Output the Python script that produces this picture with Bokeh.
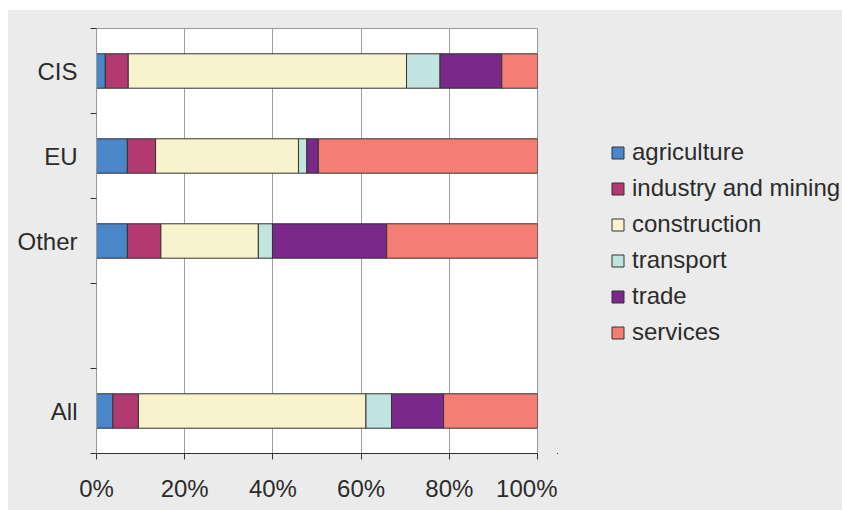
from bokeh.plotting import figure
from bokeh.models import ColumnDataSource, FixedTicker, Legend, LegendItem, Spacer, Range1d
from bokeh.layouts import row, column
from bokeh.embed import file_html
from bokeh.resources import INLINE

regions = ["CIS", "EU", "Other", "", "All"]
sectors = ["agriculture", "industry and mining", "construction", "transport", "trade", "services"]
agriculture = [2.0, 7.0, 7.0, 0.0, 3.7]
industry = [5.2, 6.4, 7.6, 0.0, 5.8]
construction = [63.1, 32.4, 22.1, 0.0, 51.6]
transport = [7.6, 1.9, 3.2, 0.0, 5.8]
trade = [14.0, 2.6, 25.9, 0.0, 11.8]
services = [8.1, 49.7, 34.2, 0.0, 21.3]
x_ticks = [0, 20, 40, 60, 80, 100]
x_labels = ["0%", "20%", "40%", "60%", "80%", "100%"]
colors = ["#4a87c8", "#b33a70", "#f8f3cd", "#c1e4df", "#7a288a", "#f47e73"]

n = len(regions)
ypos = [n - i - 0.5 for i in range(n)]
keys = ["agriculture", "industry", "construction", "transport", "trade", "services"]
src = ColumnDataSource(dict(y=ypos, agriculture=agriculture, industry=industry,
                            construction=construction, transport=transport,
                            trade=trade, services=services))

FONT = "Liberation Sans"
TXT = "#2b2b2b"
FS = "24px"
BG = "#ebebeb"

W1 = 549
p = figure(width=W1, height=500, output_backend="svg", toolbar_location=None,
           x_range=Range1d(0, 100), y_range=Range1d(0, n),
           min_border_left=88, min_border_right=W1 - 88 - 441, min_border_top=18, min_border_bottom=57)
p.border_fill_color = BG
p.background_fill_color = "white"
p.outline_line_color = "#9a9a9a"
p.outline_line_width = 1

rs = p.hbar_stack(keys, y="y", height=0.405, color=colors, source=src,
                  line_color="#333333", line_width=1)

# axes
p.xaxis.ticker = FixedTicker(ticks=x_ticks)
p.xaxis.major_label_overrides = {t: l for t, l in zip(x_ticks, x_labels)}
p.xaxis.minor_tick_line_color = None
p.xaxis.major_tick_out = 6
p.xaxis.major_tick_in = 0
p.xaxis.axis_line_color = "#333333"
p.xaxis.major_tick_line_color = "#333333"
p.xaxis.major_label_standoff = 15
p.xaxis.major_label_text_font = FONT
p.xaxis.major_label_text_font_size = FS
p.xaxis.major_label_text_color = TXT

p.yaxis.ticker = FixedTicker(ticks=ypos, minor_ticks=list(range(n + 1)))
p.yaxis.major_label_overrides = {y: r for y, r in zip(ypos, regions)}
p.yaxis.major_tick_line_color = None
p.yaxis.major_tick_out = 0
p.yaxis.major_tick_in = 0
p.yaxis.minor_tick_out = 6
p.yaxis.minor_tick_in = 0
p.yaxis.minor_tick_line_color = "#333333"
p.yaxis.axis_line_color = "#9a9a9a"
p.yaxis.major_label_standoff = 13
p.yaxis.major_label_text_font = FONT
p.yaxis.major_label_text_font_size = FS
p.yaxis.major_label_text_color = TXT

p.xgrid.ticker = FixedTicker(ticks=x_ticks)
p.xgrid.grid_line_color = "#a0a0a0"
p.xgrid.grid_line_width = 1
p.ygrid.grid_line_color = None

# legend panel (second figure continuing the grey background); its bars lie outside its view
p2 = figure(width=834 - W1, height=500, output_backend="svg", toolbar_location=None,
            x_range=Range1d(1000, 1001), y_range=Range1d(1000, 1001),
            min_border_left=0, min_border_right=0, min_border_top=0, min_border_bottom=0)
p2.border_fill_color = BG
p2.background_fill_color = BG
p2.outline_line_color = None
p2.axis.visible = False
p2.grid.grid_line_color = None
rs2 = p2.hbar_stack(keys, y="y", height=0.4, color=colors, source=src,
                    line_color="#333333", line_width=1)

items = [LegendItem(label=s, renderers=[r]) for s, r in zip(sectors, rs2)]
legend = Legend(items=items, location=(53, 107), orientation="vertical")
legend.glyph_width = 15
legend.glyph_height = 15
legend.label_standoff = 7
legend.label_text_font = FONT
legend.label_text_font_size = FS
legend.label_text_color = TXT
legend.spacing = 8
legend.padding = 0
legend.margin = 0
legend.background_fill_alpha = 0
legend.border_line_color = None
p2.add_layout(legend, "center")

inner = row(p, p2, spacing=0, styles={"background-color": BG})
layout = row(Spacer(width=8), column(Spacer(height=10), inner, spacing=0), spacing=0)
open("out.html", "w").write(file_html(layout, INLINE))
